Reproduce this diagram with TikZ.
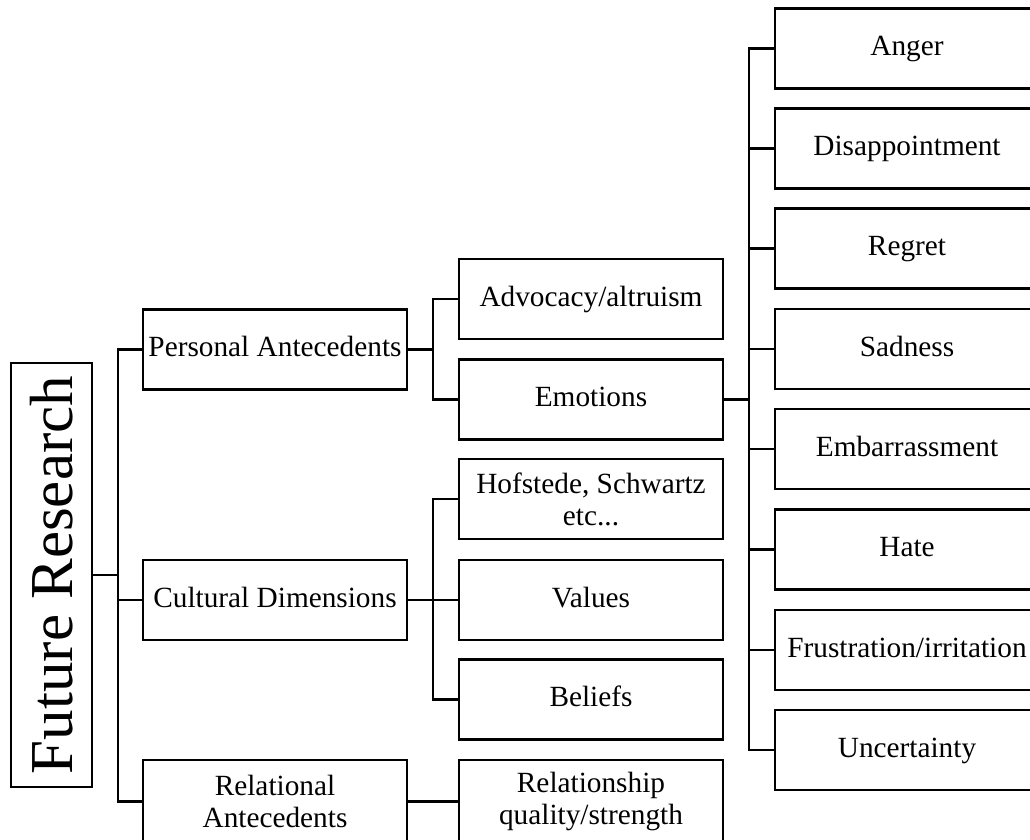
\documentclass[tikz,border=0pt]{standalone}
\usepackage{fontspec}
\setmainfont{Liberation Serif}
\begin{document}
\begin{tikzpicture}[x=1pt,y=-1pt,
  box/.style={draw, line width=2.7pt, minimum width=264pt, minimum height=80pt,
    inner sep=0pt, font=\fontsize{29.3}{32}\selectfont},
  oneline/.style={box, text height=20.5pt, text depth=6pt},
  twoline/.style={box, align=center},
  link/.style={line width=2.7pt}]
\useasboundingbox (0,0) rectangle (1030,840);

% root
\node[draw, line width=2.7pt, minimum width=424pt, minimum height=81pt, inner sep=0pt,
      rotate=90, font=\fontsize{61}{61}\selectfont] (fr) at (51.5,575) {Future Research};

% first level
\node[oneline] (pa) at (275,349.5) {Personal Antecedents};
\node[oneline] (cd) at (275,600) {Cultural Dimensions};
\node[twoline, minimum height=83pt] (ra) at (275,801.5) {Relational\\Antecedents};

% second level
\node[oneline] (adv) at (591,299) {Advocacy/altruism};
\node[oneline] (emo) at (591,399.5) {Emotions};
\node[twoline] (hof) at (591,499) {Hofstede, Schwartz\\etc...};
\node[oneline] (val) at (591,600) {Values};
\node[oneline] (bel) at (591,699.5) {Beliefs};
\node[twoline, minimum height=83pt] (rel) at (591,801.5) {Relationship\\quality/strength};

% emotions
\node[oneline] (e1) at (907,48.5) {Anger};
\node[oneline] (e2) at (907,148.5) {Disappointment};
\node[oneline] (e3) at (907,248.5) {Regret};
\node[oneline] (e4) at (907,349) {Sadness};
\node[oneline] (e5) at (907,449) {Embarrassment};
\node[oneline] (e6) at (907,549.5) {Hate};
\node[oneline] (e7) at (907,650) {Frustration/irritation};
\node[oneline] (e8) at (907,750) {Uncertainty};

% branch lines
\coordinate (t0) at (118,0);
\coordinate (t1) at (433,0);
\coordinate (t2) at (749,0);

\draw[link] (fr.south) -- (fr.south -| t0);
\draw[link] (pa.west) -- (pa.west -| t0) -- (ra.west -| t0) -- (ra.west);
\draw[link] (cd.west) -- (cd.west -| t0);

\draw[link] (pa.east) -- (pa.east -| t1);
\draw[link] (adv.west) -- (adv.west -| t1) -- (emo.west -| t1) -- (emo.west);

\draw[link] (cd.east) -- (cd.east -| t1);
\draw[link] (hof.west) -- (hof.west -| t1) -- (bel.west -| t1) -- (bel.west);
\draw[link] (val.west) -- (val.west -| t1);

\draw[link] (ra.east) -- (rel.west);

\draw[link] (emo.east) -- (emo.east -| t2);
\draw[link] (e1.west) -- (e1.west -| t2) -- (e8.west -| t2) -- (e8.west);
\foreach \n in {e2,e3,e4,e5,e6,e7}
  \draw[link] (\n.west) -- (\n.west -| t2);
\end{tikzpicture}
\end{document}
